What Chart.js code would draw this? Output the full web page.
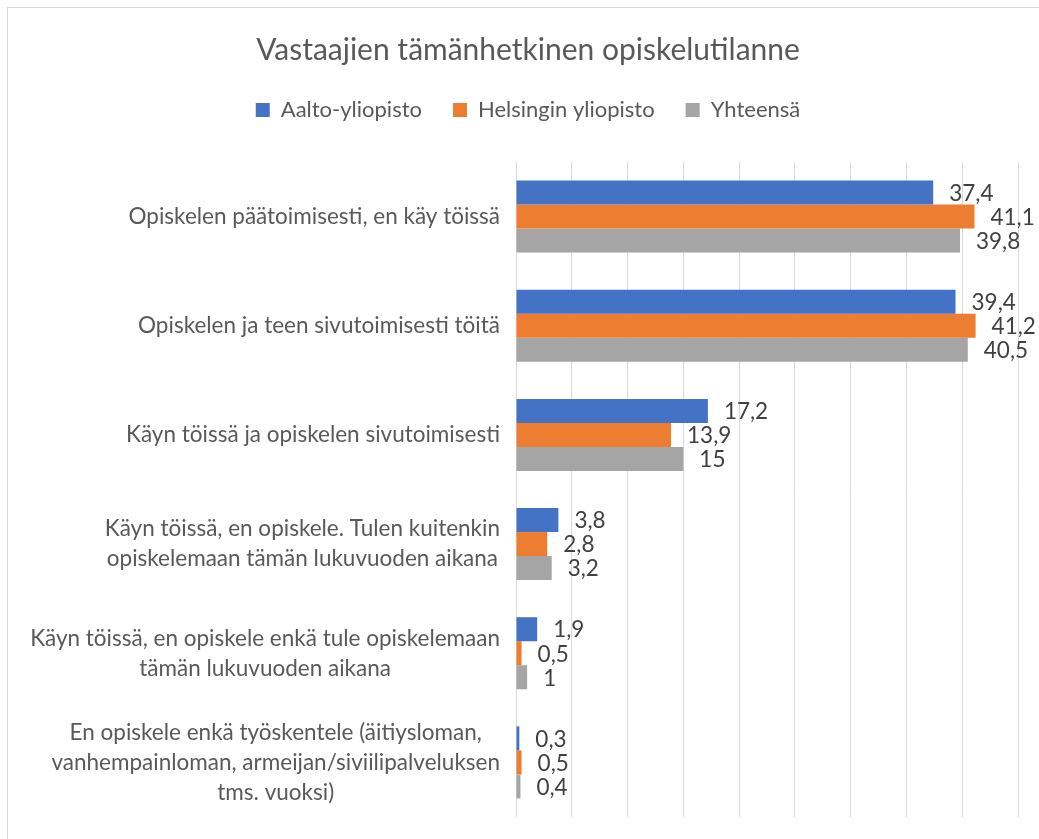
<!DOCTYPE html>
<html lang="fi">
<head>
    <meta charset="UTF-8">
    <title>Vastaajien tämänhetkinen opiskelutilanne</title>
    <script src="https://cdn.jsdelivr.net/npm/chart.js"></script>
    <style>
        body {
            margin: 0;
            background: #fff;
            font-family: Lato, sans-serif;
        }
        #frame {
            position: absolute;
            left: 7px;
            top: 7px;
            width: 1100px;
            height: 900px;
            border-left: 1px solid #d9d9d9;
            border-top: 1px solid #d9d9d9;
        }
        #chartBox {
            position: absolute;
            left: 0;
            top: 0;
        }
    </style>
</head>
<body>
    <div id="frame"></div>
    <div id="chartBox">
        <canvas id="studyChart" width="1039" height="839"></canvas>
    </div>

    <script>
        // Categories (multi-line labels as in the original)
        const categories = [
            ['Opiskelen päätoimisesti, en käy töissä'],
            ['Opiskelen ja teen sivutoimisesti töitä'],
            ['Käyn töissä ja opiskelen sivutoimisesti'],
            ['Käyn töissä, en opiskele. Tulen kuitenkin', 'opiskelemaan tämän lukuvuoden aikana'],
            ['Käyn töissä, en opiskele enkä tule opiskelemaan', 'tämän lukuvuoden aikana'],
            ['En opiskele enkä työskentele (äitiysloman,', 'vanhempainloman, armeijan/siviilipalveluksen', 'tms. vuoksi)']
        ];

        // Series values (%)
        const aalto = [37.4, 39.4, 17.2, 3.8, 1.9, 0.3];
        const helsinki = [41.1, 41.2, 13.9, 2.8, 0.5, 0.5];
        const total = [39.8, 40.5, 15, 3.2, 1, 0.4];

        const seriesNames = ['Aalto-yliopisto', 'Helsingin yliopisto', 'Yhteensä'];

        const textColor = '#595959';
        const fontFamily = 'Lato, sans-serif';

        // Draws the value next to each bar, with a decimal comma
        const valueLabels = {
            id: 'valueLabels',
            afterDatasetsDraw(chart) {
                const ctx = chart.ctx;
                ctx.save();
                ctx.font = '22.5px ' + fontFamily;
                ctx.fillStyle = '#404040';
                ctx.textAlign = 'left';
                ctx.textBaseline = 'middle';
                chart.data.datasets.forEach((ds, di) => {
                    const meta = chart.getDatasetMeta(di);
                    meta.data.forEach((bar, i) => {
                        const txt = String(ds.data[i]).replace('.', ',');
                        ctx.fillText(txt, bar.x + 16, bar.y + 1);
                    });
                });
                ctx.restore();
            }
        };

        // Category labels: block right-aligned, lines centred inside the block
        const categoryLabels = {
            id: 'categoryLabels',
            afterDraw(chart) {
                const ctx = chart.ctx;
                const yScale = chart.scales.y;
                const rightEdge = 500;
                const lineHeight = 30;
                ctx.save();
                ctx.font = '22.5px ' + fontFamily;
                ctx.fillStyle = textColor;
                ctx.textAlign = 'center';
                ctx.textBaseline = 'middle';
                categories.forEach((lines, i) => {
                    const yc = yScale.getPixelForValue(i);
                    const widest = Math.max(...lines.map(l => ctx.measureText(l).width));
                    const xc = rightEdge - widest / 2;
                    const y0 = yc - (lines.length - 1) * lineHeight / 2;
                    lines.forEach((l, k) => ctx.fillText(l, xc, y0 + k * lineHeight));
                });
                ctx.restore();
            }
        };

        const ctx = document.getElementById('studyChart').getContext('2d');
        const studyChart = new Chart(ctx, {
            type: 'bar',
            data: {
                labels: categories,
                datasets: [
                    { label: seriesNames[0], data: aalto, backgroundColor: '#4472C4', borderWidth: 0 },
                    { label: seriesNames[1], data: helsinki, backgroundColor: '#ED7D31', borderWidth: 0 },
                    { label: seriesNames[2], data: total, backgroundColor: '#A5A5A5', borderWidth: 0 }
                ]
            },
            options: {
                indexAxis: 'y',
                responsive: false,
                animation: false,
                layout: {
                    padding: { left: 38, right: 21, top: 0, bottom: 22 }
                },
                datasets: {
                    bar: {
                        barPercentage: 1,
                        categoryPercentage: 0.66
                    }
                },
                scales: {
                    x: {
                        position: 'top',
                        min: 0,
                        max: 45,
                        ticks: { stepSize: 5, display: false },
                        grid: { color: '#d9d9d9', drawTicks: false },
                        border: { display: false },
                        afterFit(scale) {
                            // empty gap between legend and plot
                            scale.height = 31;
                        }
                    },
                    y: {
                        ticks: { display: false },
                        grid: { display: false },
                        border: { display: false },
                        afterFit(scale) {
                            scale.width = 478;
                        }
                    }
                },
                plugins: {
                    title: {
                        display: true,
                        text: 'Vastaajien tämänhetkinen opiskelutilanne',
                        color: textColor,
                        font: { family: fontFamily, size: 30, weight: 'normal' },
                        padding: { top: 32, bottom: 0 }
                    },
                    legend: {
                        labels: {
                            color: textColor,
                            font: { family: fontFamily, size: 22 },
                            boxWidth: 14,
                            boxHeight: 14,
                            padding: 31
                        }
                    },
                    tooltip: { enabled: false }
                }
            },
            plugins: [valueLabels, categoryLabels]
        });
    </script>
</body>
</html>
